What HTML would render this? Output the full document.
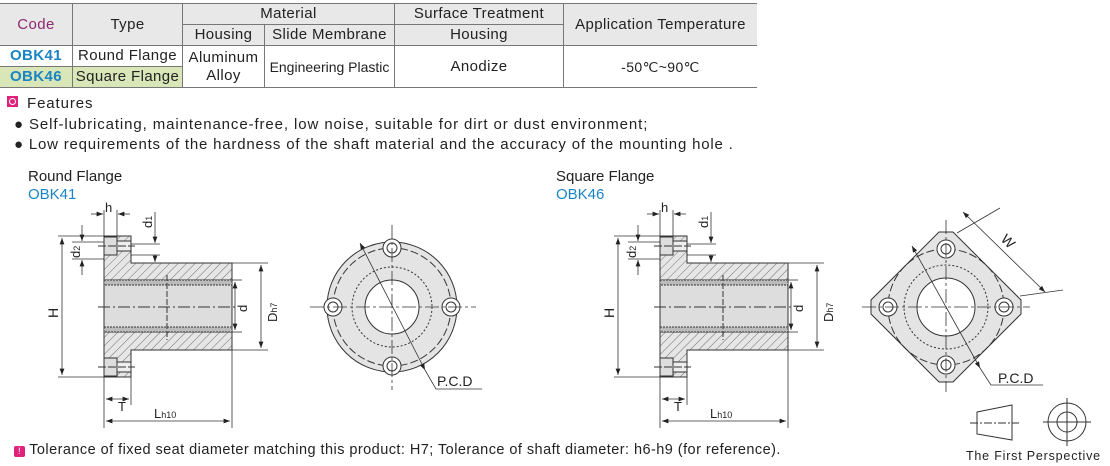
<!DOCTYPE html>
<html><head><meta charset="utf-8"><style>
body{margin:0;width:1110px;height:466px;background:#fff;font-family:"Liberation Sans",Arial,sans-serif;color:#222;overflow:hidden;position:relative}
table{position:absolute;left:0;top:3px;border-collapse:collapse;font-size:15px;letter-spacing:0.4px}
td{border:1px solid #777;text-align:center;padding:0;line-height:20px;height:20px}
.h{background:#e8e8e8}
.t{position:absolute;white-space:nowrap}
</style></head><body>
<table>
<tr class="h"><td rowspan="2" style="width:72px;color:#8b2a6e;border-left:none">Code</td><td rowspan="2" style="width:109px">Type</td><td colspan="2">Material</td><td style="width:168px">Surface Treatment</td><td rowspan="2" style="width:193px;border-right:none">Application Temperature</td></tr>
<tr class="h"><td style="width:81px">Housing</td><td style="width:129px">Slide Membrane</td><td>Housing</td></tr>
<tr><td style="color:#1a84c4;font-weight:bold;border-left:none">OBK41</td><td>Round Flange</td><td rowspan="2" style="line-height:18px">Aluminum<br>Alloy</td><td rowspan="2" style="font-size:14px;letter-spacing:0">Engineering Plastic</td><td rowspan="2">Anodize</td><td rowspan="2" style="font-size:14px;border-right:none">-50℃~90℃</td></tr>
<tr><td style="color:#1a84c4;font-weight:bold;background:#d8e6b8;border-left:none">OBK46</td><td style="background:#d8e6b8">Square Flange</td></tr>
</table>
<div style="position:absolute;left:7px;top:96px;width:11px;height:11px;background:#e0237a"><div style="margin:2px;width:5px;height:5px;border:1px solid #fff;border-radius:50%"></div></div>
<div class="t" style="left:27px;top:95px;font-size:15px;letter-spacing:0.9px">Features</div>
<div class="t" style="left:14px;top:116px;font-size:15px;letter-spacing:0.9px">● Self-lubricating, maintenance-free, low noise, suitable for dirt or dust environment;</div>
<div class="t" style="left:14px;top:136px;font-size:15px;letter-spacing:0.8px">● Low requirements of the hardness of the shaft material and the accuracy of the mounting hole .</div>
<div class="t" style="left:28px;top:168px;font-size:15px">Round Flange</div>
<div class="t" style="left:28px;top:186px;font-size:15px;color:#1a84c4">OBK41</div>
<div class="t" style="left:556px;top:168px;font-size:15px">Square Flange</div>
<div class="t" style="left:556px;top:186px;font-size:15px;color:#1a84c4">OBK46</div>
<div class="t" style="left:14px;top:442px;font-size:14.5px;letter-spacing:0.45px"><span style="display:inline-block;width:11px;height:11px;background:#e0237a;color:#fff;font-size:9px;line-height:11px;text-align:center;border-radius:2px;vertical-align:0">!</span> Tolerance of fixed seat diameter matching this product: H7; Tolerance of shaft diameter: h6-h9 (for reference).</div>
<div class="t" style="left:966px;top:449px;font-size:12.5px;letter-spacing:0.8px">The First Perspective</div>
<svg width="1110" height="466" style="position:absolute;left:0;top:0" font-family="Liberation Sans,Arial,sans-serif">
<defs>
<pattern id="hat" width="6" height="6" patternUnits="userSpaceOnUse" patternTransform="rotate(45)"><rect width="6" height="6" fill="#e6e6e6"/><line x1="0" y1="0" x2="0" y2="6" stroke="#555" stroke-width="0.8"/></pattern>
<marker id="a" markerWidth="8" markerHeight="6" refX="8" refY="3" orient="auto-start-reverse"><path d="M0,0L8,3L0,6z" fill="#222"/></marker>
<g id="side" stroke="#333" stroke-width="1" fill="none">
<path d="M104,236H131V263H232V350H131V377H104Z" fill="url(#hat)"/>
<rect x="104" y="280" width="128" height="52" fill="#ddd"/>
<rect x="104" y="280" width="128" height="5" fill="#bbb" stroke-dasharray="2 1"/>
<rect x="104" y="327" width="128" height="5" fill="#bbb" stroke-dasharray="2 1"/>
<rect x="104" y="237" width="13" height="18" fill="#ddd"/><rect x="117" y="241" width="14" height="10" fill="#eee"/>
<rect x="104" y="358" width="13" height="18" fill="#ddd"/><rect x="117" y="362" width="14" height="10" fill="#eee"/>
<line x1="98" y1="307" x2="238" y2="307" stroke-dasharray="12 3 2 3"/>
<line x1="167" y1="275" x2="167" y2="340" stroke-dasharray="6 2"/>
<line x1="98" y1="246" x2="135" y2="246" stroke-dasharray="8 2"/><line x1="98" y1="367" x2="135" y2="367" stroke-dasharray="8 2"/>
<g stroke-width="0.8">
<line x1="58" y1="236" x2="104" y2="236"/><line x1="58" y1="377" x2="104" y2="377"/>
<line x1="62" y1="238" x2="62" y2="375" marker-start="url(#a)" marker-end="url(#a)"/>
<line x1="72" y1="242" x2="104" y2="242"/><line x1="72" y1="259" x2="104" y2="259"/>
<line x1="82" y1="225" x2="82" y2="241" marker-end="url(#a)"/><line x1="82" y1="275" x2="82" y2="260" marker-end="url(#a)"/>
<line x1="104" y1="210" x2="104" y2="236"/><line x1="117" y1="210" x2="117" y2="237"/>
<line x1="91" y1="214" x2="103" y2="214" marker-end="url(#a)"/><line x1="130" y1="214" x2="118" y2="214" marker-end="url(#a)"/>
<line x1="131" y1="244" x2="160" y2="244"/><line x1="131" y1="255" x2="160" y2="255"/>
<line x1="155" y1="212" x2="155" y2="243" marker-end="url(#a)"/><line x1="155" y1="255" x2="155" y2="262" marker-end="url(#a)"/>
<line x1="232" y1="263" x2="268" y2="263"/><line x1="232" y1="350" x2="268" y2="350"/>
<line x1="261" y1="265" x2="261" y2="348" marker-start="url(#a)" marker-end="url(#a)"/>
<line x1="232" y1="280" x2="242" y2="280"/><line x1="232" y1="332" x2="242" y2="332"/>
<line x1="235" y1="282" x2="235" y2="330" marker-start="url(#a)" marker-end="url(#a)"/>
<line x1="104" y1="377" x2="104" y2="428"/><line x1="131" y1="377" x2="131" y2="405"/><line x1="232" y1="350" x2="232" y2="428"/>
<line x1="106" y1="399" x2="129" y2="399" marker-start="url(#a)" marker-end="url(#a)"/>
<line x1="106" y1="421" x2="230" y2="421" marker-start="url(#a)" marker-end="url(#a)"/>
</g></g>
</defs>
<use href="#side"/>
<use href="#side" transform="translate(556,0)"/>
<g font-size="13" fill="#222">
<text x="105" y="212">h</text><text x="661" y="212">h</text>
<text x="118" y="411">T</text><text x="674" y="411">T</text>
<text x="154" y="418">L<tspan font-size="9">h10</tspan></text><text x="710" y="418">L<tspan font-size="9">h10</tspan></text>
<g transform="rotate(-90)">
<text x="-318" y="58" font-size="14">H</text><text x="-318" y="614" font-size="14">H</text>
<text x="-258" y="80">d<tspan font-size="9">2</tspan></text><text x="-258" y="636">d<tspan font-size="9">2</tspan></text>
<text x="-228" y="152">d<tspan font-size="9">1</tspan></text><text x="-228" y="708">d<tspan font-size="9">1</tspan></text>
<text x="-312" y="247">d</text><text x="-312" y="803">d</text>
<text x="-322" y="277">D<tspan font-size="9">h7</tspan></text><text x="-322" y="833">D<tspan font-size="9">h7</tspan></text>
</g>
<text x="437" y="386" font-size="14">P.C.D</text><text x="998" y="383" font-size="14">P.C.D</text>
<text x="0" y="0" font-size="14" transform="translate(1000,240) rotate(45)">W</text>
</g>
<g stroke="#333" stroke-width="1" fill="none">
<circle cx="392" cy="307" r="65" fill="#e4e4e4"/>
<circle cx="392" cy="307" r="59" stroke-dasharray="8 3"/>
<circle cx="392" cy="307" r="40" stroke-dasharray="2 2"/>
<circle cx="392" cy="307" r="27" fill="#fff"/>
<circle cx="392" cy="248" r="9" fill="#fff"/><circle cx="392" cy="248" r="5"/>
<circle cx="392" cy="366" r="9" fill="#fff"/><circle cx="392" cy="366" r="5"/>
<circle cx="333" cy="307" r="9" fill="#fff"/><circle cx="333" cy="307" r="5"/>
<circle cx="451" cy="307" r="9" fill="#fff"/><circle cx="451" cy="307" r="5"/>
<line x1="310" y1="307" x2="476" y2="307" stroke-dasharray="14 3 3 3" stroke-width="0.8"/>
<line x1="392" y1="225" x2="392" y2="390" stroke-dasharray="14 3 3 3" stroke-width="0.8"/>
<line x1="360" y1="243" x2="425" y2="370" stroke-width="0.8" marker-start="url(#a)" marker-end="url(#a)"/>
<polyline points="425,370 436,389 482,389" stroke-width="0.8"/>
</g>
<g stroke="#333" stroke-width="1" fill="none">
<path d="M939,232L953,232L1021,300L1021,314L953,382L939,382L871,314L871,300Z" fill="#e4e4e4"/>
<circle cx="946" cy="307" r="58" stroke-dasharray="8 3"/>
<circle cx="946" cy="307" r="42" stroke-dasharray="2 2"/>
<circle cx="946" cy="307" r="29" fill="#fff"/>
<circle cx="946" cy="249" r="9" fill="#fff"/><circle cx="946" cy="249" r="5"/>
<circle cx="946" cy="365" r="9" fill="#fff"/><circle cx="946" cy="365" r="5"/>
<circle cx="888" cy="307" r="9" fill="#fff"/><circle cx="888" cy="307" r="5"/>
<circle cx="1004" cy="307" r="9" fill="#fff"/><circle cx="1004" cy="307" r="5"/>
<line x1="862" y1="307" x2="1030" y2="307" stroke-dasharray="14 3 3 3" stroke-width="0.8"/>
<line x1="946" y1="220" x2="946" y2="392" stroke-dasharray="14 3 3 3" stroke-width="0.8"/>
<line x1="912" y1="246" x2="980" y2="368" stroke-width="0.8" marker-start="url(#a)" marker-end="url(#a)"/>
<polyline points="980,368 991,385 1043,385" stroke-width="0.8"/>
<line x1="957" y1="233" x2="1000" y2="208" stroke-width="0.8"/><line x1="1020" y1="296" x2="1063" y2="290" stroke-width="0.8"/>
<line x1="963" y1="212" x2="1045" y2="292" stroke-width="0.8" marker-start="url(#a)" marker-end="url(#a)"/>
</g>
<g stroke="#333" stroke-width="1" fill="none">
<path d="M977,412L1012,405L1012,440L977,434Z"/>
<line x1="970" y1="423" x2="1019" y2="423" stroke-dasharray="8 2 2 2"/>
<circle cx="1067" cy="422" r="19"/><circle cx="1067" cy="422" r="10"/>
<line x1="1043" y1="422" x2="1091" y2="422"/><line x1="1067" y1="398" x2="1067" y2="446"/>
</g>
</svg>
</body></html>
